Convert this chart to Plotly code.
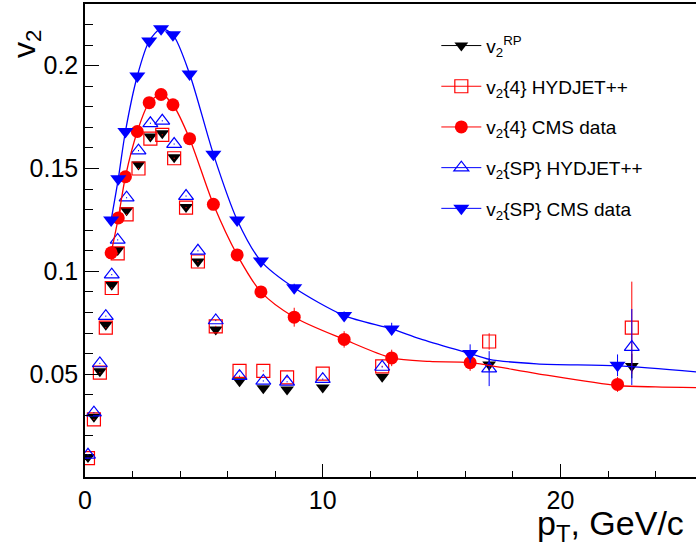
import plotly.graph_objects as go

# ---------------- data ----------------
# HYDJET++ pT bins (GeV/c)
pt_hyd = [0.125, 0.375, 0.625, 0.875, 1.125, 1.375, 1.75, 2.25, 2.75, 3.25, 3.75,
          4.25, 4.75, 5.5, 6.5, 7.5, 8.5, 10.0, 12.5, 17.0, 23.0]
v2_rp = [0.0097, 0.0293, 0.0514, 0.0740, 0.0935, 0.1104, 0.1297, 0.1519, 0.1656, 0.1672, 0.1555,
         0.1313, 0.1048, 0.0717, 0.0466, 0.0431, 0.0426, 0.0435, 0.0487, 0.0547, 0.0540]
err_rp = [0.0003] * 19 + [0.003, 0.006]
v2_4_hyd = [0.0092, 0.0280, 0.0508, 0.0726, 0.0919, 0.1087, 0.1277, 0.1500, 0.1645, 0.1664, 0.1550,
            0.1310, 0.1048, 0.0732, 0.0516, 0.0516, 0.0484, 0.0503, 0.0538, 0.0659, 0.0726]
err_4_hyd = [0.0003] * 19 + [0.004, 0.0224]
v2_sp_hyd = [0.0108, 0.0313, 0.0552, 0.0782, 0.0984, 0.1153, 0.1358, 0.1587, 0.1720, 0.1732, 0.1619,
             0.1366, 0.1100, 0.0761, 0.0490, 0.0467, 0.0463, 0.0476, 0.0535, 0.0527, 0.0632]
err_sp_hyd = [0.0003] * 19 + [0.0085, 0.0185]

# CMS data
pt_cms = [1.1, 1.4, 1.7, 2.2, 2.7, 3.2, 3.7, 4.4, 5.4, 6.4, 7.4, 8.8, 10.9, 12.9, 16.2, 22.4]
v2_4_cms = [0.109, 0.126, 0.146, 0.168, 0.182, 0.186, 0.181, 0.1645, 0.1326, 0.108, 0.090,
            0.0777, 0.0669, 0.0579, 0.0556, 0.045]
err_4_cms = [0.0005] * 11 + [0.0046, 0.004, 0.004, 0.004, 0.0036]
v2_sp_cms = [0.125, 0.145, 0.168, 0.195, 0.212, 0.218, 0.215, 0.196, 0.157, 0.125, 0.105,
             0.092, 0.0785, 0.072, 0.060, 0.0543]
err_sp_cms = [0.0005] * 11 + [0.002, 0.002, 0.003, 0.0045, 0.0053]

# smooth curves through the CMS data
fit4_pt = [1.1, 1.4, 1.7, 2.2, 2.7, 3.2, 3.7, 4.4, 5.4, 6.4, 7.4, 8.8, 10.9, 12.9, 14.5,
           16.2, 19.0, 22.4, 24.0, 25.7]
fit4_v2 = [0.109, 0.126, 0.146, 0.168, 0.182, 0.186, 0.181, 0.1645, 0.1326, 0.108, 0.090,
           0.0777, 0.0669, 0.0579, 0.0562, 0.0556, 0.0503, 0.0445, 0.0438, 0.0435]
fitsp_pt = [1.1, 1.4, 1.7, 2.2, 2.7, 3.2, 3.7, 4.4, 5.4, 6.4, 7.4, 8.8, 10.9, 12.9, 14.1,
            16.2, 17.0, 19.0, 22.4, 25.7]
fitsp_v2 = [0.125, 0.145, 0.168, 0.195, 0.212, 0.218, 0.215, 0.196, 0.157, 0.125, 0.105,
            0.092, 0.0785, 0.072, 0.0672, 0.060, 0.0572, 0.0550, 0.0540, 0.0511]

legend_names = ["v<sub>2</sub><sup>RP</sup>", "v<sub>2</sub>{4} HYDJET++", "v<sub>2</sub>{4} CMS data",
                "v<sub>2</sub>{SP} HYDJET++", "v<sub>2</sub>{SP} CMS data"]
y_tickvals = [0.05, 0.1, 0.15, 0.2]
y_ticktext = ["0.05", "0.1", "0.15", "0.2"]
x_tickvals = [0, 10, 20]

RED = "#ff0000"
BLUE = "#0000ff"
FONT = "Liberation Sans, Arial, sans-serif"

styles = [
    dict(line=dict(color="black", width=1), marker=dict(symbol="triangle-down", size=12, color="black")),
    dict(line=dict(color=RED, width=1), marker=dict(symbol="square-open", size=13, color=RED, line=dict(width=1.2, color=RED))),
    dict(line=dict(color=RED, width=1), marker=dict(symbol="circle", size=13, color=RED)),
    dict(line=dict(color=BLUE, width=1), marker=dict(symbol="triangle-up-open", size=13, color=BLUE, line=dict(width=1.2, color=BLUE))),
    dict(line=dict(color=BLUE, width=1), marker=dict(symbol="triangle-down", size=14, color=BLUE)),
]

fig = go.Figure()

# legend-only entries
for i, (nm, st) in enumerate(zip(legend_names, styles)):
    fig.add_trace(go.Scatter(x=[None], y=[None], mode="lines+markers", name=nm,
                             legendgroup=f"g{i}", showlegend=True, **st))

# HYDJET++ points
fig.add_trace(go.Scatter(x=pt_hyd, y=v2_rp, mode="markers", showlegend=False,
                         marker=styles[0]["marker"],
                         error_y=dict(type="data", array=err_rp, color="black", thickness=1, width=0)))
fig.add_trace(go.Scatter(x=pt_hyd, y=v2_4_hyd, mode="markers", showlegend=False,
                         marker=styles[1]["marker"],
                         error_y=dict(type="data", array=err_4_hyd, color=RED, thickness=1, width=0)))
fig.add_trace(go.Scatter(x=pt_hyd, y=v2_sp_hyd, mode="markers", showlegend=False,
                         marker=styles[3]["marker"],
                         error_y=dict(type="data", array=err_sp_hyd, color=BLUE, thickness=1, width=0)))

# CMS v2{4}
fig.add_trace(go.Scatter(x=fit4_pt, y=fit4_v2, mode="lines", showlegend=False,
                         line=dict(color=RED, width=1.3, shape="spline", smoothing=0.8)))
fig.add_trace(go.Scatter(x=pt_cms, y=v2_4_cms, mode="markers", showlegend=False,
                         marker=styles[2]["marker"],
                         error_y=dict(type="data", array=err_4_cms, color=RED, thickness=1, width=0)))
# CMS v2{SP}
fig.add_trace(go.Scatter(x=fitsp_pt, y=fitsp_v2, mode="lines", showlegend=False,
                         line=dict(color=BLUE, width=1.3, shape="spline", smoothing=0.8)))
fig.add_trace(go.Scatter(x=pt_cms, y=v2_sp_cms, mode="markers", showlegend=False,
                         marker=styles[4]["marker"],
                         error_y=dict(type="data", array=err_sp_cms, color=BLUE, thickness=1, width=0)))

fig.update_layout(
    width=696, height=544,
    margin=dict(l=85, r=0, t=4, b=67),
    paper_bgcolor="white", plot_bgcolor="white",
    font=dict(family=FONT, color="black"),
    showlegend=True,
    legend=dict(x=0.575, y=0.952, xanchor="left", yanchor="top",
                font=dict(family=FONT, size=19, color="black"),
                bgcolor="rgba(0,0,0,0)", tracegroupgap=13, itemwidth=40),
    xaxis=dict(range=[0, 25.7], showgrid=False, zeroline=False,
               showline=True, linecolor="black", linewidth=1.5, mirror=True,
               ticks="inside", ticklen=13, tickwidth=1, tickcolor="black",
               tickmode="array", tickvals=x_tickvals,
               tickfont=dict(family=FONT, size=25),
               minor=dict(ticks="inside", ticklen=6, dtick=2, tick0=0, tickcolor="black", tickwidth=1)),
    yaxis=dict(range=[0, 0.23], showgrid=False, zeroline=False,
               showline=True, linecolor="black", linewidth=1.5, mirror=False,
               ticks="inside", ticklen=14, tickwidth=1, tickcolor="black",
               tickmode="array", tickvals=y_tickvals, ticktext=y_ticktext,
               tickfont=dict(family=FONT, size=25),
               minor=dict(ticks="inside", ticklen=8, dtick=0.01, tick0=0, tickcolor="black", tickwidth=1)),
    annotations=[
        dict(text="v<sub>2</sub>", xref="paper", yref="paper", x=-0.097, y=0.915,
             xanchor="center", yanchor="middle", textangle=-90, showarrow=False,
             font=dict(family=FONT, size=32, color="black")),
        dict(text="p<sub>T</sub>, GeV/c", xref="paper", yref="paper", x=0.983, y=-0.103,
             xanchor="right", yanchor="middle", showarrow=False,
             font=dict(family=FONT, size=34, color="black")),
    ],
)

fig.write_html("out.html", config={"displayModeBar": False},
               post_script="document.body.style.margin='0px';document.body.style.overflow='hidden';")
